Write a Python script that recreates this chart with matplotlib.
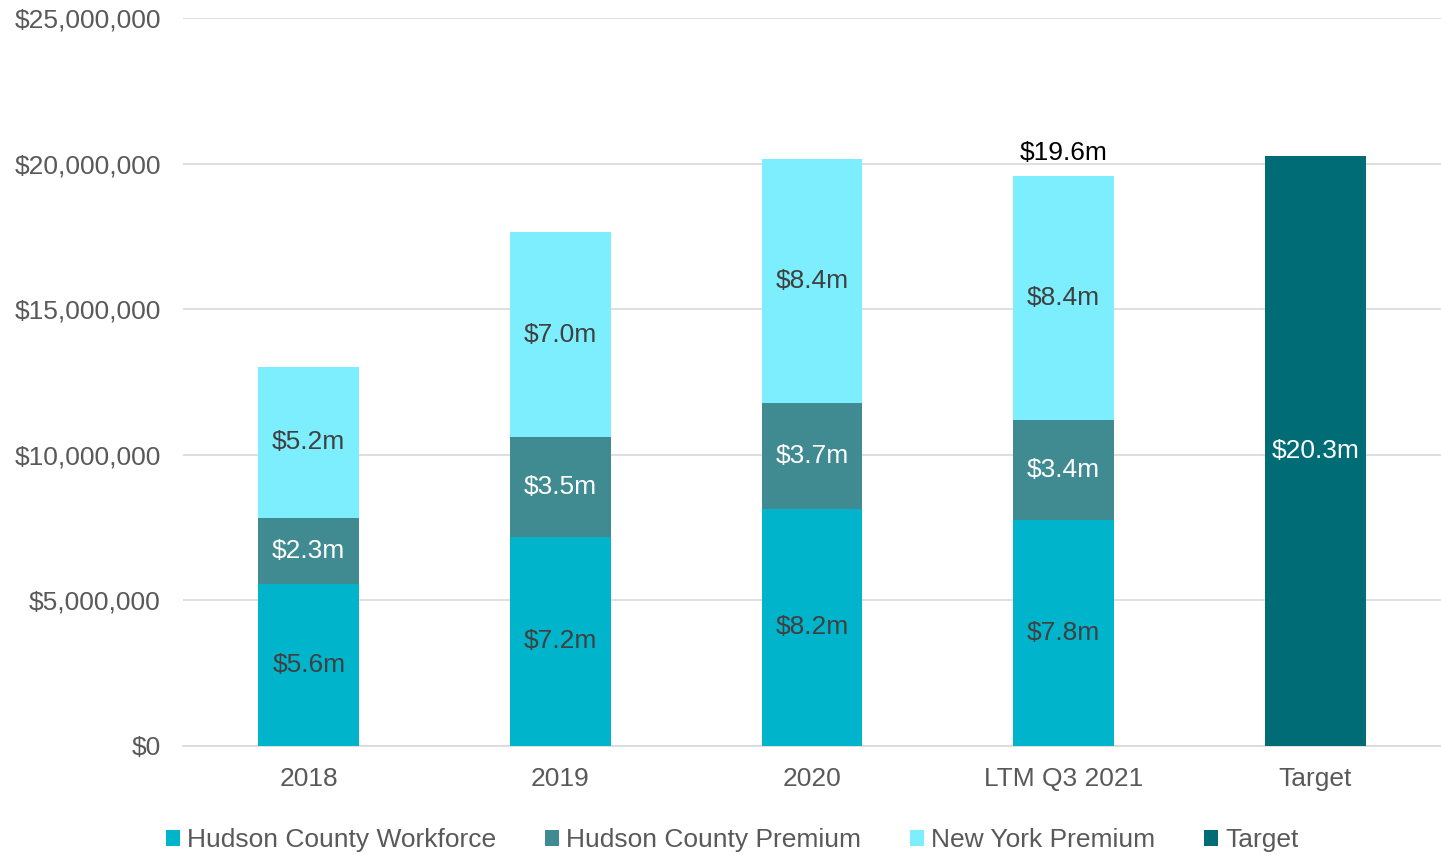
import numpy as np
import matplotlib.pyplot as plt
from matplotlib.ticker import FuncFormatter

plt.rcParams['font.family'] = ['Liberation Sans', 'DejaVu Sans']

categories = ['2018', '2019', '2020', 'LTM Q3 2021', 'Target']
workforce = [5.56, 7.18, 8.14, 7.76, 0]
hc_premium = [2.28, 3.43, 3.64, 3.42, 0]
ny_premium = [5.18, 7.04, 8.38, 8.38, 0]
target = [0, 0, 0, 0, 20.26]
workforce_lbl = ['$5.6m', '$7.2m', '$8.2m', '$7.8m', '']
hc_lbl = ['$2.3m', '$3.5m', '$3.7m', '$3.4m', '']
ny_lbl = ['$5.2m', '$7.0m', '$8.4m', '$8.4m', '']
target_lbl = ['', '', '', '', '$20.3m']
total_lbl = {3: '$19.6m'}

c_wf = '#00b4cc'
c_hc = '#3f8b91'
c_ny = '#7deefe'
c_tg = '#006c75'
fs = 19

fig = plt.figure(figsize=(14.41, 8.55), dpi=100)
ax = fig.add_axes([0.127, 0.1275, 0.873, 0.8515])

x = np.arange(len(categories))
w = 0.4
wf = np.array(workforce) * 1e6
hc = np.array(hc_premium) * 1e6
ny = np.array(ny_premium) * 1e6
tg = np.array(target) * 1e6

b1 = ax.bar(x, wf, w, color=c_wf, label='Hudson County Workforce', zorder=3)
b2 = ax.bar(x, hc, w, bottom=wf, color=c_hc, label='Hudson County Premium', zorder=3)
b3 = ax.bar(x, ny, w, bottom=wf + hc, color=c_ny, label='New York Premium', zorder=3)
b4 = ax.bar(x, tg, w, color=c_tg, label='Target', zorder=3)

ax.bar_label(b1, labels=workforce_lbl, label_type='center', color='#404040', fontsize=fs)
ax.bar_label(b2, labels=hc_lbl, label_type='center', color='white', fontsize=fs)
ax.bar_label(b3, labels=ny_lbl, label_type='center', color='#404040', fontsize=fs)
ax.bar_label(b4, labels=target_lbl, label_type='center', color='white', fontsize=fs)
tot = wf + hc + ny
for i, t in total_lbl.items():
    ax.text(x[i], tot[i] + 0.4e6, t, ha='center', va='bottom', fontsize=fs, color='black')

ax.set_xlim(-0.5, 4.5)
ax.set_ylim(0, 25e6)
ax.set_yticks(np.arange(0, 25e6 + 1, 5e6))
ax.yaxis.set_major_formatter(FuncFormatter(lambda v, p: '${:,.0f}'.format(v)))
ax.set_xticks(x)
ax.set_xticklabels(categories)
ax.tick_params(axis='both', length=0, labelsize=fs, labelcolor='#595959')
ax.tick_params(axis='y', pad=16)
ax.tick_params(axis='x', pad=15)
ax.grid(axis='y', color='#d9d9d9', linewidth=1.2, zorder=0)
for s in ['top', 'right', 'left']:
    ax.spines[s].set_visible(False)
ax.spines['bottom'].set_color('#d9d9d9')
ax.spines['bottom'].set_linewidth(1.2)

leg = fig.legend(handles=[b1, b2, b3, b4], loc='center', bbox_to_anchor=(0.508, 0.0175),
                 ncol=4, frameon=False, fontsize=fs, handlelength=0.55, handleheight=0.55,
                 handletextpad=0.25, columnspacing=1.85, borderpad=0)
for t in leg.get_texts():
    t.set_color('#595959')

fig.savefig('out.png', dpi=100)
